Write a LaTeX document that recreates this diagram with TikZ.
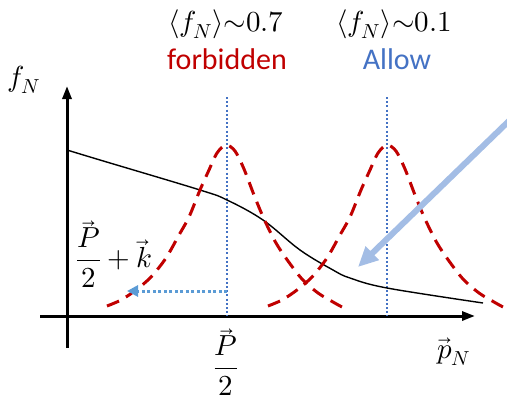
\documentclass[tikz,border=0pt]{standalone}
\usepackage{amsmath}
\usepackage{fontspec}
\usepackage{unicode-math}
\setmathfont{Latin Modern Math}
\setsansfont{Carlito}
\usetikzlibrary{arrows.meta}
\definecolor{dred}{HTML}{C00000}
\definecolor{lblue}{HTML}{4472C4}
\definecolor{mblue}{HTML}{5B9BD5}
\definecolor{pblue}{HTML}{A3BDE5}
\begin{document}
\begin{tikzpicture}[x=1pt,y=-1pt,
  axis/.style={line width=3pt,-{Triangle[length=13pt,width=9pt]}},
  reddash/.style={dred,line width=3pt,dash pattern=on 13pt off 8pt},
  vdot/.style={lblue,line width=1.8pt,dash pattern=on 2pt off 2.2pt},
  lab/.style={inner sep=0pt,font=\fontsize{29}{34}\selectfont},
  wlab/.style={inner sep=0pt,font=\sffamily\fontsize{30}{34}\selectfont}]
\useasboundingbox (0,0) rectangle (507,402);
% axes
\coordinate (ybot) at (67,348);
\coordinate (ytop) at (67,86);
\coordinate (xl) at (40,316);
\coordinate (xr) at (475,316);
\draw[axis] (ybot) -- (ytop);
\draw[axis] (xl) -- (xr);
% vertical dotted lines
\coordinate (v1t) at (227,97);
\coordinate (v1b) at (227,316);
\coordinate (v2t) at (387,97);
\coordinate (v2b) at (387,316);
\draw[vdot] (v1t) -- (v1b);
\draw[vdot] (v2t) -- (v2b);
% black curve
\draw[line width=1.4pt] plot[smooth,tension=0.6] coordinates {(67,150) (100,160) (200,190) (227,200) (263,220) (300,250) (333,270) (350,278) (387,288) (483,303)};
% peak shapes
\foreach \px in {226,387}{
  \draw[reddash,shift={(\px,145)}] plot[smooth,tension=0.5] coordinates {(-119,161) (-105,155) (-90,145) (-75,132) (-60,113) (-47,90) (-37,72) (-26,45) (-17,25) (-9,8) (0,0) (9,6) (18,24) (28,50) (38,74) (50,98) (62,116) (76,134) (92,148) (107,157) (116,162)};
}
% horizontal dotted arrow
\coordinate (hs) at (227,291);
\coordinate (he) at (127,291);
\draw[mblue,line width=3pt,dash pattern=on 3pt off 2.5pt,-{Triangle[length=11pt,width=11pt]}] (hs) -- (he);
% big blue arrow
\coordinate (bs) at (512,118);
\coordinate (be) at (358,267);
\draw[pblue,line width=6pt,-{Triangle[length=20pt,width=18pt]}] (bs) -- (be);
% labels
\node[lab] (fN) at (24,80) {$f_N$};
\node[lab] (m1) at (226,24) {$\langle f_N\rangle{\sim}0.7$};
\node[lab] (m2) at (394,24) {$\langle f_N\rangle{\sim}0.1$};
\node[wlab,text=dred] (forb) at (227,59) {forbidden};
\node[wlab,text=lblue] (allow) at (397,59) {Allow};
\node[lab] (pk) at (114,254) {$\dfrac{\vec P}{2}+\vec k$};
\node[lab] (p2) at (226,362) {$\dfrac{\vec P}{2}$};
\node[lab] (pN) at (454,352) {$\vec p_N$};
\end{tikzpicture}
\end{document}
